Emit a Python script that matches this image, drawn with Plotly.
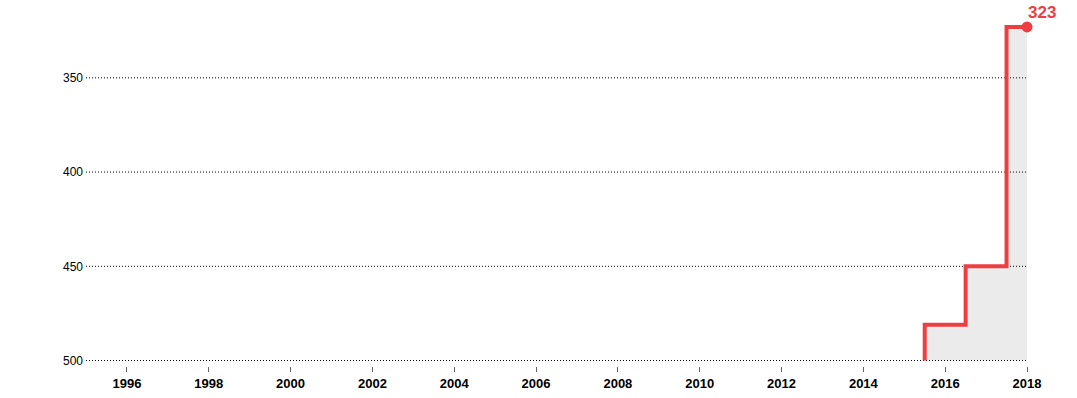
import plotly.graph_objects as go

# step positions (mid-year boundaries) and rank values
step_x = [2015.5, 2016.5, 2017.5, 2018]
rank = [500, 481, 450, 323]
baseline = 500
x_range = [1995, 2018]
x_ticks = list(range(1996, 2019, 2))
y_ticks = [350, 400, 450, 500]

RED = "#ee3e42"

fig = go.Figure()
# invisible baseline and grey area
fig.add_trace(go.Scatter(
    x=step_x, y=[baseline] * len(step_x), mode="lines", line=dict(width=0),
    hoverinfo="skip", showlegend=False))
fig.add_trace(go.Scatter(
    x=step_x, y=rank, mode="lines", line_shape="vh",
    line=dict(width=0, color="#ebebeb"), fill="tonexty", fillcolor="#ebebeb",
    hoverinfo="skip", showlegend=False))
# dotted gridlines drawn above the area
for yv in y_ticks:
    fig.add_trace(go.Scatter(
        x=x_range, y=[yv, yv], mode="lines",
        line=dict(color="black", width=1, dash="1px,2px"),
        hoverinfo="skip", showlegend=False, cliponaxis=False))
# red step line
fig.add_trace(go.Scatter(
    x=step_x, y=rank, mode="lines", line_shape="vh",
    line=dict(color=RED, width=4),
    hoverinfo="skip", showlegend=False, cliponaxis=False))
fig.add_trace(go.Scatter(
    x=[step_x[-1]], y=[rank[-1]], mode="markers",
    marker=dict(color=RED, size=11), showlegend=False, cliponaxis=False))

fig.add_annotation(x=step_x[-1], y=rank[-1], text=f"<b>{rank[-1]}</b>",
                   showarrow=False, xanchor="left", yanchor="bottom",
                   xshift=-1, yshift=3,
                   font=dict(color=RED, size=17, family="Liberation Sans"))

fig.update_layout(
    width=1077, height=398,
    margin=dict(l=86, r=50, t=10, b=32, autoexpand=False),
    plot_bgcolor="white", paper_bgcolor="white",
    font=dict(family="Liberation Sans, Arial", color="black", size=12),
    xaxis=dict(range=x_range, tickvals=x_ticks, showgrid=False, zeroline=False,
               anchor="free", position=0, automargin=False,
               ticks="outside", ticklen=5, tickcolor="#666", tickwidth=1,
               tickfont=dict(size=13, family="Liberation Sans, Arial", weight="bold"),
               showline=False),
    yaxis=dict(range=[500.25, 314], tickvals=y_ticks, showgrid=False,
               domain=[5 / 356, 1], automargin=False,
               zeroline=False, showline=False,
               ticks="", ticklabelstandoff=2,
               tickfont=dict(size=12)),
)
fig.write_html("out.html")
